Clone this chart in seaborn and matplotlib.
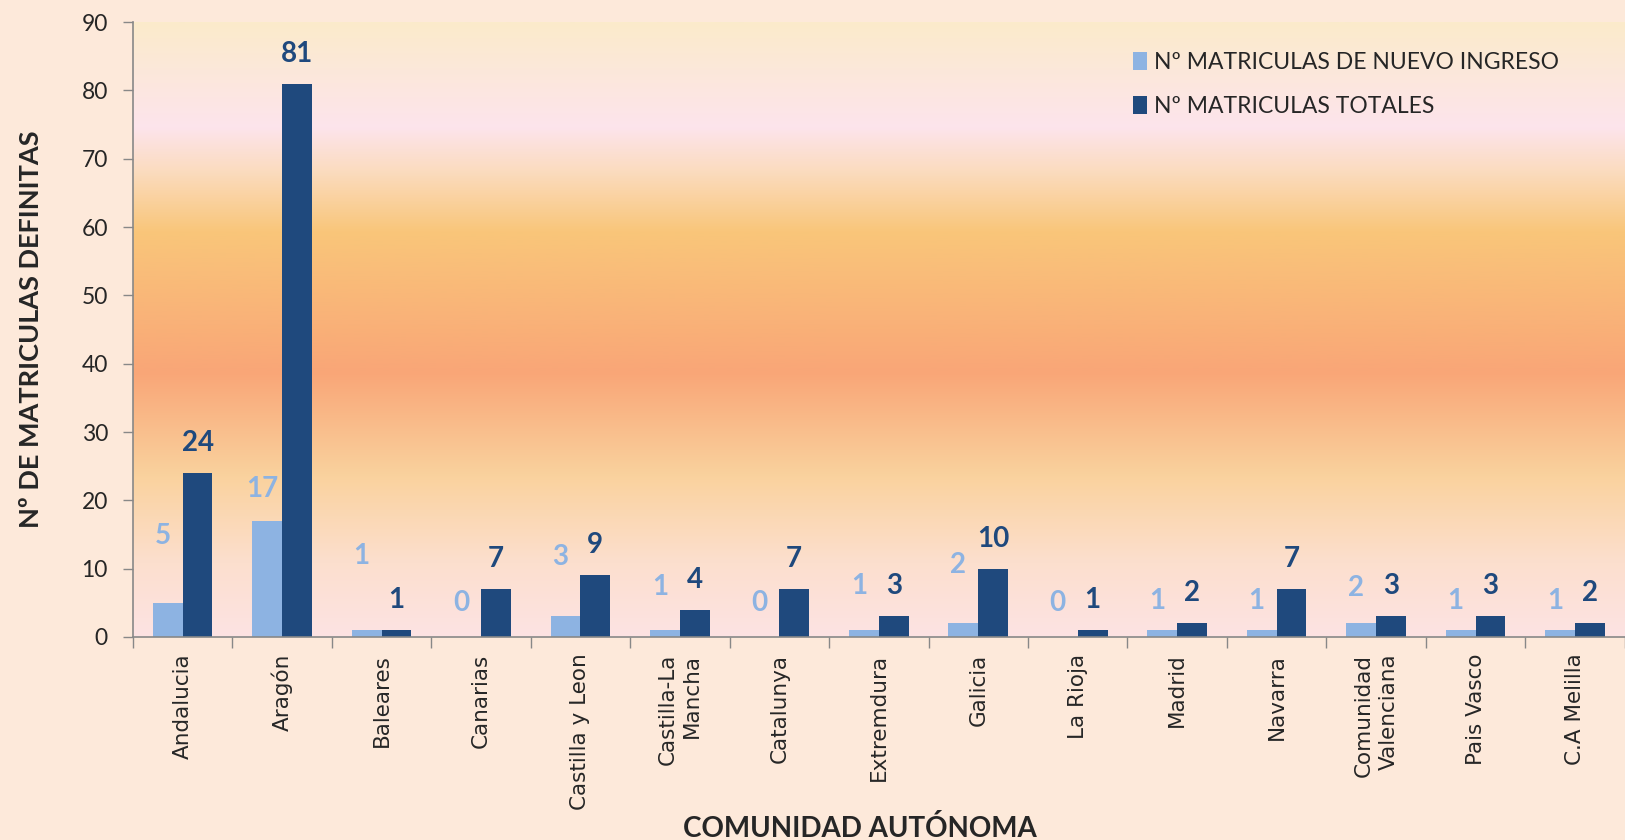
import numpy as np
import pandas as pd
import matplotlib
matplotlib.use('Agg')
import matplotlib.pyplot as plt
from matplotlib.colors import LinearSegmentedColormap
import seaborn as sns

comunidades = ['Andalucia', 'Aragón', 'Baleares', 'Canarias', 'Castilla y Leon',
               'Castilla-La\nMancha', 'Catalunya', 'Extremdura', 'Galicia', 'La Rioja',
               'Madrid', 'Navarra', 'Comunidad\nValenciana', 'Pais Vasco', 'C.A Melilla']
nuevo_ingreso = [5, 17, 1, 0, 3, 1, 0, 1, 2, 0, 1, 1, 2, 1, 1]
totales = [24, 81, 1, 7, 9, 4, 7, 3, 10, 1, 2, 7, 3, 3, 2]
series = ['Nº MATRICULAS DE NUEVO INGRESO', 'Nº MATRICULAS TOTALES']

df = pd.DataFrame({
    'comunidad': comunidades * 2,
    'serie': [series[0]] * len(comunidades) + [series[1]] * len(comunidades),
    'valor': nuevo_ingreso + totales,
})

light = '#8DB3E2'
dark = '#1F497D'
bg = '#FDE9DA'

sns.set_style('white')
plt.rcParams['font.family'] = ['Lato', 'DejaVu Sans']

fig = plt.figure(figsize=(16.25, 8.4), dpi=100, facecolor=bg)
ax = fig.add_axes([0.0818, 0.2417, 0.918, 0.732])

# degradado del fondo del área de trazado
grad = LinearSegmentedColormap.from_list('fondo', [
    (0.0, '#FDE3E3'), (0.12, '#FCDFCE'), (0.26, '#FAD29E'), (0.43, '#F9A677'),
    (0.66, '#F9C67A'), (0.76, '#FBDCC0'), (0.83, '#FDE4EC'), (1.0, '#FBEBCB')])
ax.imshow(np.linspace(0, 1, 256).reshape(-1, 1), cmap=grad, origin='lower',
          extent=[-0.5, 14.5, 0, 90], aspect='auto', zorder=0)

sns.barplot(data=df, x='comunidad', y='valor', hue='serie', palette=[light, dark],
            width=0.6, saturation=1, ax=ax, zorder=2, edgecolor='none')

ax.set_xlim(-0.5, 14.5)
ax.set_ylim(0, 90)
ax.set_yticks(range(0, 91, 10))
ax.tick_params(axis='y', labelsize=16.5, length=7, width=1, color='#888888', pad=11, left=True)
ax.set_xticks(np.arange(-0.5, 15, 1), minor=True)
ax.tick_params(axis='x', which='minor', length=8, width=1, color='#888888', bottom=True)
ax.tick_params(axis='x', which='major', length=0, pad=12)
ax.set_xticks(range(len(comunidades)))
ax.set_xticklabels(comunidades, rotation=90, fontsize=15.5, family='DejaVu Sans',
                   ha='center', va='top', linespacing=1.3, multialignment='right')

for s in ['top', 'right']:
    ax.spines[s].set_visible(False)
for s in ['left', 'bottom']:
    ax.spines[s].set_color('#888888')
    ax.spines[s].set_linewidth(1.2)

ax.set_facecolor('none')
ax.set_xlabel('COMUNIDAD AUTÓNOMA', fontsize=20, fontweight='bold')
ax.set_ylabel('Nº DE MATRICULAS DEFINITAS', fontsize=19.5, fontweight='bold')
ax.xaxis.set_label_coords(0.487, -0.29)
ax.yaxis.set_label_coords(-0.06, 0.5)

# etiquetas de datos
altura_ligera = [14.8, 21.7, 11.8, 5, 11.7, 7.3, 5, 7.4, 10.6, 5, 5.3, 5.3, 7.1, 5.3, 5.3]
for i, (n, t) in enumerate(zip(nuevo_ingreso, totales)):
    ax.text(i - 0.2, altura_ligera[i], str(n), color=light, fontsize=20, fontweight='bold',
            ha='center', va='center', zorder=3)
    ax.text(i + 0.15, t + 4.4, str(t), color=dark, fontsize=20, fontweight='bold',
            ha='center', va='center', zorder=3)

leg = ax.legend(loc='upper right', bbox_to_anchor=(0.97, 0.985), frameon=False,
                fontsize=16.5, handlelength=0.65, handleheight=0.85, handletextpad=0.3,
                labelspacing=1.0)

fig.savefig('out.png', dpi=100, facecolor=bg)
